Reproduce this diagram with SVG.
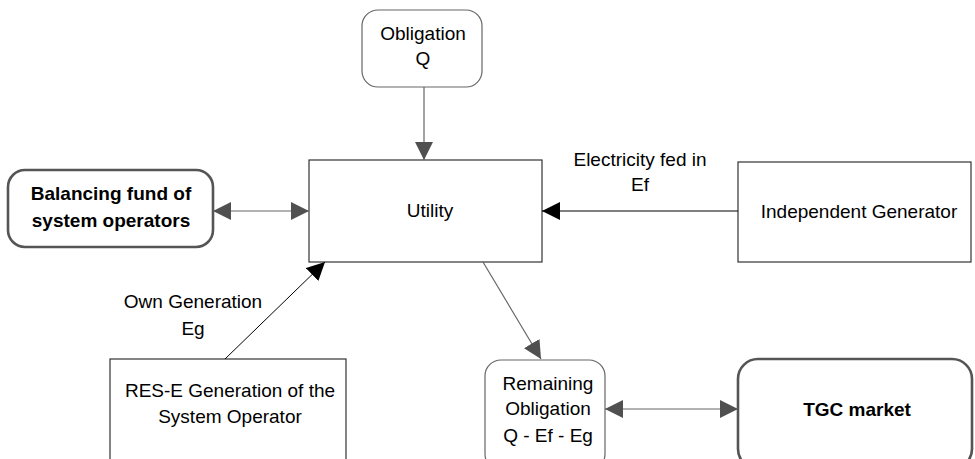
<svg xmlns="http://www.w3.org/2000/svg" width="975" height="459" viewBox="0 0 975 459">
<style>
text{font-family:"Liberation Sans",Arial,sans-serif;font-size:19px;fill:#000;text-anchor:middle}
.b{font-weight:bold}
.box{fill:#fff;stroke:#333;stroke-width:1.2}
.rnd{fill:#fff;stroke:#666;stroke-width:1.2}
.thick{fill:#fff;stroke:#555;stroke-width:2.6}
.g{stroke:#666;stroke-width:1.2;fill:none}
.k{stroke:#000;stroke-width:1;fill:none}
</style>
<defs>
<marker id="ag" markerWidth="18" markerHeight="18" refX="18" refY="9" orient="auto-start-reverse" markerUnits="userSpaceOnUse"><path d="M0,0 L18,9 L0,18 Z" fill="#505050"/></marker>
<marker id="ak" markerWidth="18" markerHeight="18" refX="18" refY="9" orient="auto-start-reverse" markerUnits="userSpaceOnUse"><path d="M0,0 L18,9 L0,18 Z" fill="#000"/></marker>
</defs>
<g id="obligation"><rect class="rnd" x="362" y="10" width="120" height="77" rx="16"/><text x="423" y="40">Obligation</text><text x="423" y="65">Q</text></g>
<g id="utility"><rect class="box" x="309" y="160" width="233" height="102"/><text x="430" y="217">Utility</text></g>
<g id="independent"><rect class="box" x="738" y="162" width="233" height="100"/><text x="859" y="218">Independent Generator</text></g>
<g id="balancing"><rect class="thick" x="8" y="170" width="205" height="77" rx="17"/><text class="b" x="111" y="200">Balancing fund of</text><text class="b" x="111" y="227">system operators</text></g>
<g id="rese"><rect class="box" x="110" y="359" width="236" height="110"/><text x="230" y="397">RES-E Generation of the</text><text x="230" y="423">System Operator</text></g>
<g id="remaining"><rect class="rnd" x="485" y="360" width="120" height="110" rx="16"/><text x="548" y="390">Remaining</text><text x="548" y="415">Obligation</text><text x="548" y="442">Q - Ef - Eg</text></g>
<g id="tgc"><rect class="thick" x="738" y="359" width="234" height="110" rx="20"/><text class="b" x="857" y="416">TGC market</text></g>
<g id="connectors">
<line class="g" x1="424" y1="87" x2="424" y2="160" marker-end="url(#ag)"/>
<line class="k" x1="738" y1="211" x2="542" y2="211" marker-end="url(#ak)"/>
<line class="g" x1="213" y1="211" x2="309" y2="211" marker-start="url(#ag)" marker-end="url(#ag)"/>
<line class="k" x1="225" y1="359" x2="325" y2="262" marker-end="url(#ak)"/>
<line class="g" x1="483" y1="262" x2="541" y2="359" marker-end="url(#ag)"/>
<line class="g" x1="605" y1="409" x2="738" y2="409" marker-start="url(#ag)" marker-end="url(#ag)"/>
<text x="640" y="166">Electricity fed in</text><text x="640" y="191">Ef</text>
<text x="193" y="308">Own Generation</text><text x="193" y="335">Eg</text>
</g>
</svg>
